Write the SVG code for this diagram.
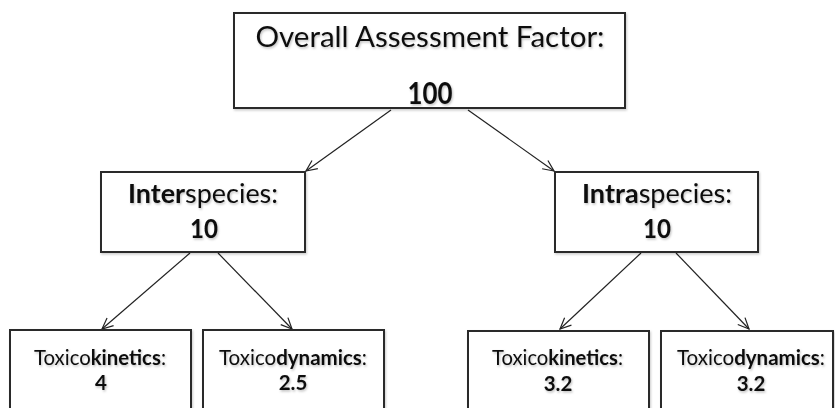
<svg xmlns="http://www.w3.org/2000/svg" width="835" height="408" viewBox="0 0 835 408">
  <defs>
    <filter id="tsh" x="-10%" y="-30%" width="120%" height="160%">
      <feDropShadow dx="1" dy="1.5" stdDeviation="1" flood-color="#000" flood-opacity="0.25"/>
    </filter>
    <filter id="bsh" x="-5%" y="-5%" width="110%" height="115%">
      <feDropShadow dx="1" dy="1.5" stdDeviation="1" flood-color="#000" flood-opacity="0.2"/>
    </filter>
    <marker id="arr" markerWidth="14" markerHeight="14" refX="12" refY="6" orient="auto" markerUnits="userSpaceOnUse">
      <path d="M1,1 L12,6 L1,11" fill="none" stroke="#222" stroke-width="1.2"/>
    </marker>
  </defs>
  <style>
    .box { fill: #fff; stroke: #2b2b2b; stroke-width: 2; filter: url(#bsh); }
    .t { font-family: Lato, "Open Sans", "Liberation Sans", sans-serif; fill: #111; text-anchor: middle; filter: url(#tsh); }
    .b { font-weight: bold; }
    .edge { stroke: #222; stroke-width: 1.2; fill: none; marker-end: url(#arr); }
  </style>
  <rect width="835" height="408" fill="#fff"/>

  <g id="connectors">
    <line class="edge" x1="391" y1="110" x2="306" y2="171"/>
    <line class="edge" x1="468" y1="110" x2="554" y2="171"/>
    <line class="edge" x1="190" y1="253" x2="102" y2="329"/>
    <line class="edge" x1="218" y1="253" x2="292" y2="329"/>
    <line class="edge" x1="641" y1="253" x2="560" y2="329"/>
    <line class="edge" x1="676" y1="253" x2="749" y2="329"/>
  </g>

  <g id="overall">
    <rect class="box" x="234" y="13" width="391" height="95"/>
    <text class="t" x="430" y="47" font-size="29.5" textLength="349" lengthAdjust="spacingAndGlyphs">Overall Assessment Factor:</text>
    <text class="t b" x="430" y="104" font-size="29.5" textLength="45" lengthAdjust="spacingAndGlyphs">100</text>
  </g>

  <g id="interspecies">
    <rect class="box" x="101" y="172" width="204" height="80"/>
    <text class="t" x="203" y="203" font-size="26.5" textLength="150" lengthAdjust="spacingAndGlyphs"><tspan class="b">Inter</tspan>species:</text>
    <text class="t b" x="204" y="238" font-size="26.5" textLength="28" lengthAdjust="spacingAndGlyphs">10</text>
  </g>

  <g id="intraspecies">
    <rect class="box" x="555" y="172" width="203" height="80"/>
    <text class="t" x="657" y="203" font-size="26.5" textLength="150" lengthAdjust="spacingAndGlyphs"><tspan class="b">Intra</tspan>species:</text>
    <text class="t b" x="657" y="238" font-size="26.5" textLength="28" lengthAdjust="spacingAndGlyphs">10</text>
  </g>

  <g id="inter-kinetics">
    <rect class="box" x="10" y="330" width="181" height="100"/>
    <text class="t" x="100" y="365" font-size="20.5" textLength="132" lengthAdjust="spacingAndGlyphs">Toxico<tspan class="b">kinetics</tspan>:</text>
    <text class="t b" x="101" y="390" font-size="20.5">4</text>
  </g>

  <g id="inter-dynamics">
    <rect class="box" x="203" y="330" width="181" height="100"/>
    <text class="t" x="293" y="365" font-size="20.5" textLength="148" lengthAdjust="spacingAndGlyphs">Toxico<tspan class="b">dynamics</tspan>:</text>
    <text class="t b" x="293" y="390" font-size="20.5">2.5</text>
  </g>

  <g id="intra-kinetics">
    <rect class="box" x="468" y="331" width="181" height="100"/>
    <text class="t" x="557.5" y="365" font-size="20.5" textLength="131" lengthAdjust="spacingAndGlyphs">Toxico<tspan class="b">kinetics</tspan>:</text>
    <text class="t b" x="558" y="391" font-size="20.5">3.2</text>
  </g>

  <g id="intra-dynamics">
    <rect class="box" x="661" y="331" width="172" height="100"/>
    <text class="t" x="751" y="365" font-size="20.5" textLength="148" lengthAdjust="spacingAndGlyphs">Toxico<tspan class="b">dynamics</tspan>:</text>
    <text class="t b" x="751" y="391" font-size="20.5">3.2</text>
  </g>
</svg>
